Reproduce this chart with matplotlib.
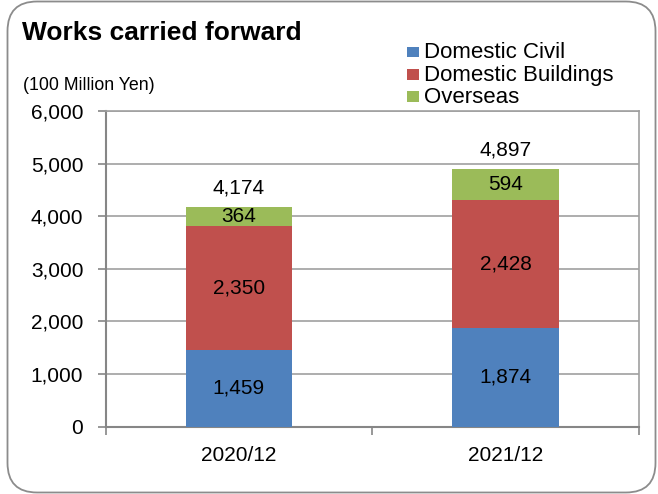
import matplotlib
matplotlib.use("Agg")
import matplotlib.pyplot as plt
from matplotlib.patches import FancyBboxPatch, Rectangle
from matplotlib.ticker import FuncFormatter, FixedLocator

plt.rcParams['font.family'] = ['Liberation Sans', 'DejaVu Sans']

categories = ["2020/12", "2021/12"]
series_names = ["Domestic Civil", "Domestic Buildings", "Overseas"]
domestic_civil = [1459, 1874]
domestic_buildings = [2350, 2428]
overseas = [364, 594]
totals = [4174, 4897]
colors = ["#4F81BD", "#C0504D", "#9BBB59"]

W, H = 658, 494
fig = plt.figure(figsize=(W / 100, H / 100), dpi=100)

# rounded outer frame
frame = FancyBboxPatch((7.5 / W, 1.5 / H), (655.5 - 7.5) / W, (492.5 - 1.5) / H,
                       boxstyle="round,pad=0,rounding_size=0.045",
                       transform=fig.transFigure, facecolor="none",
                       edgecolor="#8C8C8C", linewidth=1.3, zorder=5,
                       mutation_aspect=W / H)
fig.patches.append(frame)

L, R, T, B = 105.5, 639, 111, 426.5
ax = fig.add_axes([L / W, 1 - B / H, (R - L) / W, (B - T) / H])
ax.set_facecolor("none")

x = list(range(len(categories)))
bw = 0.4
series = [domestic_civil, domestic_buildings, overseas]
bottoms = [0] * len(categories)
for vals, col in zip(series, colors):
    bars = ax.bar(x, vals, bw, bottom=bottoms, color=col, zorder=3)
    for xi, v, b0 in zip(x, vals, bottoms):
        ax.text(xi, b0 + v / 2, f"{v:,}", ha="center", va="center",
                fontsize=15, color="black", zorder=4)
    bottoms = [b0 + v for b0, v in zip(bottoms, vals)]

for xi, t in zip(x, totals):
    ax.annotate(f"{t:,}", (xi, t), xytext=(0, 14), textcoords="offset points",
                ha="center", va="center", fontsize=15, color="black")

ax.set_xlim(-0.5, 1.5)
ax.set_ylim(0, 6000)
ax.set_yticks(range(0, 6001, 1000))
ax.yaxis.set_major_formatter(FuncFormatter(lambda v, p: f"{int(v):,}"))
ax.set_xticks(x)
ax.set_xticklabels(categories)
ax.xaxis.set_minor_locator(FixedLocator([-0.5, 0.5, 1.5]))
ax.tick_params(axis="x", which="major", length=0, pad=14, labelsize=15)
ax.tick_params(axis="x", which="minor", length=6, width=1.2, color="#868686")
ax.tick_params(axis="y", length=6, width=1.2, color="#868686", pad=10, labelsize=15)

ax.grid(axis="y", color="#A0A0A0", linewidth=1.2, zorder=1)
for s in ["left", "bottom"]:
    ax.spines[s].set_color("#868686")
    ax.spines[s].set_linewidth(1.5)
for s in ["top", "right"]:
    ax.spines[s].set_color("#A0A0A0")
    ax.spines[s].set_linewidth(1.2)

fig.text(22 / W, 1 - 40 / H, "Works carried forward", fontsize=19,
         fontweight="bold", ha="left", va="baseline")
fig.text(23 / W, 1 - 90.5 / H, "(100 Million Yen)", fontsize=12.8,
         ha="left", va="baseline")

# legend
baselines = [58.3, 80.7, 103]
for name, col, bl in zip(series_names, colors, baselines):
    fig.patches.append(Rectangle((407.3 / W, 1 - (bl - 1) / H), 11.4 / W, 10.7 / H,
                                 transform=fig.transFigure, facecolor=col,
                                 edgecolor="none"))
    fig.text(424 / W, 1 - bl / H, name, fontsize=16, ha="left", va="baseline")

fig.savefig("out.png", dpi=100)
